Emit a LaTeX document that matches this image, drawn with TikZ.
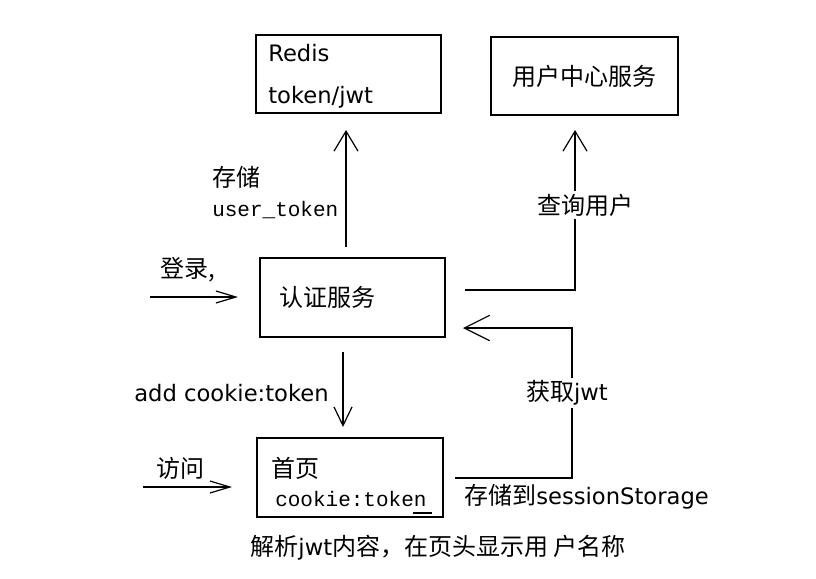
\documentclass[tikz,border=0pt]{standalone}
\usepackage{fontspec}
\setmainfont{DejaVu Sans}
\newfontfamily\cjk{Noto Sans CJK SC}
\newfontfamily\monofont{Liberation Mono}
\usetikzlibrary{arrows.meta}
\begin{document}
\begin{tikzpicture}[x=0.75pt,y=-0.75pt,
  box/.style={draw,line width=1.2pt,inner sep=0pt,minimum height=58.5pt},
  lat/.style={font=\fontsize{17}{20}\selectfont,inner sep=0pt},
  zh/.style={font=\fontsize{18}{21}\selectfont\cjk,inner sep=0pt},
  mono/.style={font=\fontsize{15.75}{18}\selectfont\monofont,inner sep=0pt},
  conn/.style={line width=1pt},
  upbarb/.style={conn,-{Straight Barb[length=15pt,width=18pt,line width=0.9pt]}},
  inbarb/.style={conn,-{Straight Barb[length=15pt,width=9pt,line width=0.9pt]}},
  cover/.style={fill=white,inner sep=2pt}]
\useasboundingbox[fill=white] (0,0) rectangle (816,578);

% boxes
\node[box,minimum width=138.75pt] (redis) at (348.5,74) {};
\node[box,minimum width=140.25pt] (ucs) at (584.5,76) {};
\node[box,minimum width=138.75pt,minimum height=59.25pt] (auth) at (352.5,297.5) {};
\node[box,minimum width=139.5pt,minimum height=59.25pt] (home) at (350,477.5) {};

% box texts
\node[lat,anchor=mid west] (tRedis) at (268,58) {Redis};
\node[lat,anchor=mid west] (tJwt) at (268,100) {token/jwt};
\node[zh] (tUcs) at (584,76) {用户中心服务};
\node[zh,anchor=west] (tAuth) at (279,297) {认证服务};
\node[zh,anchor=west] (tHome) at (271,468) {首页};
\node[mono,anchor=base west] (tCookie) at (275,506) {cookie:token};

% coordinates of connector ends
\coordinate (authTop) at (346,247);
\coordinate (redisBot) at (346,130);
\coordinate (authR1) at (465,290);
\coordinate (c1) at (575,290);
\coordinate (ucsBot) at (575,130);
\coordinate (homeR) at (455,478);
\coordinate (c2) at (572,478);
\coordinate (c3) at (572,328);
\coordinate (authR2) at (463,328);
\coordinate (authBot) at (343,352);
\coordinate (homeTop) at (343,427);
\coordinate (loginS) at (150,297);
\coordinate (loginE) at (238,297);
\coordinate (visitS) at (143,487);
\coordinate (visitE) at (232,487);

% connectors
\draw[upbarb] (authTop) -- (redisBot);
\draw[upbarb] (authR1) -- (c1) -- (ucsBot);
\draw[conn,-{Straight Barb[length=19pt,width=19pt,line width=0.9pt]}] (homeR) -- (c2) -- (c3) -- (authR2);
\draw[conn,-{Straight Barb[length=14pt,width=13.5pt,line width=0.9pt]}] (authBot) -- (homeTop);
\draw[inbarb] (loginS) -- (loginE);
\draw[inbarb] (visitS) -- (visitE);

% labels
\node[zh] (lStore) at (236,177) {存储};
\node[mono,anchor=base west] (lUserTok) at (212,216) {user\_token};
\node[zh,cover] (lQuery) at (585,205) {查询用户};
\node[zh] (lLogin) at (188,270) {登录,};
\node[lat,anchor=mid east] (lAdd) at (329,398) {add cookie:token};
\node[zh] (lVisit) at (180,468) {访问};
\node[cover,inner sep=2pt] (lGet) at (567,393) {\fontsize{18}{21}\selectfont{\cjk 获取}\fontsize{17}{20}\selectfont jwt};
\node[anchor=west,inner sep=0pt] (lSess) at (464,497) {\fontsize{18}{21}\selectfont{\cjk 存储到}\fontsize{17}{20}\selectfont sessionStorage};
\node[inner sep=0pt] (lCap) at (438,548) {\fontsize{18}{21}\selectfont{\cjk 解析}\fontsize{17}{20}\selectfont jwt\fontsize{18}{21}\selectfont{\cjk 内容，在页头显示用\ 户名称}};

\draw[line width=1.2pt] (413,513) -- (432,513);
\end{tikzpicture}
\end{document}
